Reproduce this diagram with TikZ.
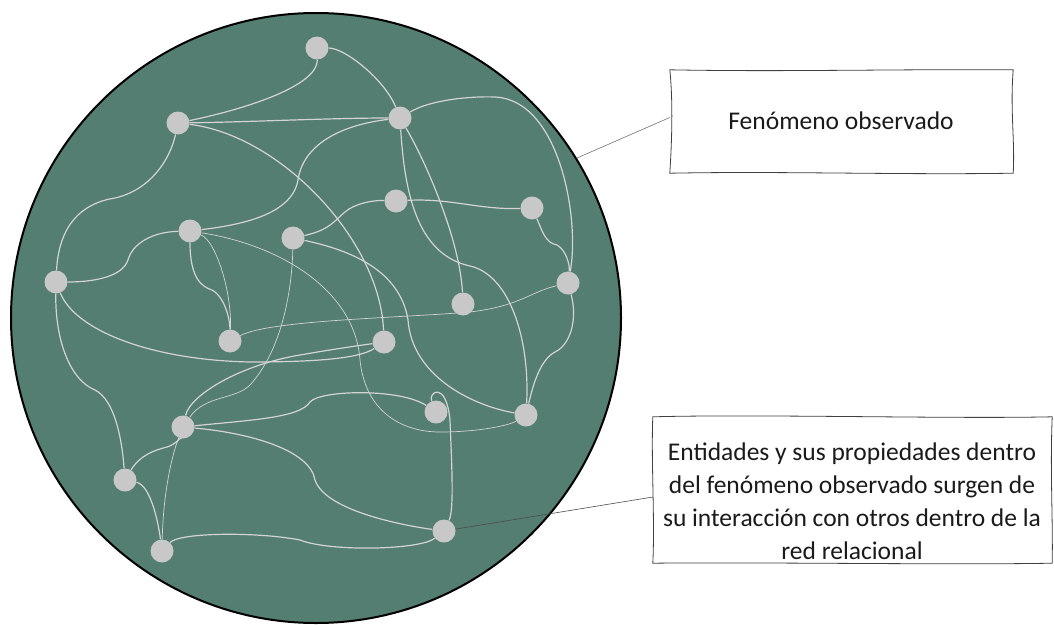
\documentclass[tikz,border=0pt]{standalone}
\usepackage{fontspec}
\setmainfont{Carlito}
\pgfdeclarelayer{back}
\pgfdeclarelayer{edges}
\pgfsetlayers{back,edges,main}
\definecolor{disc}{HTML}{537E71}
\definecolor{dot}{HTML}{C8C8C8}
\definecolor{wire}{HTML}{D4D4D4}
\definecolor{ink}{HTML}{1A1A1A}
\tikzset{
  ent/.style={circle, fill=dot, minimum size=23pt, inner sep=0pt},
  link/.style={draw=wire, line width=1.2pt},
  faint/.style={draw=wire, line width=0.7pt},
  callout/.style={draw=black!55, line width=0.6pt},
  sketch/.style={draw=black!75, line width=0.8pt},
  label/.style={font=\fontsize{25.5}{33}\selectfont, text=ink, align=center, inner sep=0pt}
}
\begin{document}
\begin{tikzpicture}[x=1pt,y=-1pt]
\useasboundingbox (0,0) rectangle (1054,624);
\begin{pgfonlayer}{back}
  \fill[white] (0,0) rectangle (1054,624);
  \draw[fill=disc, draw=black, line width=2pt] (316,318) circle [radius=305];
\end{pgfonlayer}
% entities
\node[ent] (A) at (317,48) {};
\node[ent] (B) at (178,123) {};
\node[ent] (C) at (400,118) {};
\node[ent] (D) at (396,201) {};
\node[ent] (E) at (532,208) {};
\node[ent] (F) at (190,231) {};
\node[ent] (G) at (293,238) {};
\node[ent] (H) at (56,282) {};
\node[ent] (I) at (568,283) {};
\node[ent] (J) at (463,304) {};
\node[ent] (K) at (230,341) {};
\node[ent] (L) at (384,342) {};
\node[ent] (M) at (436,412) {};
\node[ent] (N) at (526,415) {};
\node[ent] (O) at (183,427) {};
\node[ent] (P) at (125,480) {};
\node[ent] (Q) at (444,531) {};
\node[ent] (R) at (162,551) {};
\begin{pgfonlayer}{edges}
\draw[link] (A) .. controls (318,85) and (250,108) .. (B);
\draw[link] (A) .. controls (345,48) and (385,80) .. (C);
\draw[link] (C) .. controls (425,160) and (460,240) .. (J);
\draw[link] (C) .. controls (405,200) and (420,255) .. (470,266) .. controls (510,275) and (530,340) .. (N);
\draw[link] (C) .. controls (430,100) and (470,96) .. (495,97) .. controls (560,100) and (580,220) .. (I);
\draw[link] (B) .. controls (250,122) and (330,118) .. (C);
\draw[link] (B) .. controls (280,135) and (380,240) .. (L);
\draw[link] (B) .. controls (170,160) and (150,190) .. (115,198) .. controls (70,205) and (58,240) .. (H);
\draw[link] (C) .. controls (340,125) and (303,145) .. (298,180) .. controls (292,215) and (240,225) .. (F);
\draw[link] (F) .. controls (150,232) and (132,245) .. (128,260) .. controls (122,278) and (90,282) .. (H);
\draw[link] (F) .. controls (190,280) and (203,287) .. (212,290) .. controls (225,297) and (230,320) .. (K);
\draw[faint] (F) .. controls (215,240) and (232,290) .. (K);
\draw[faint] (K) .. controls (270,320) and (400,318) .. (470,312) .. controls (520,306) and (530,292) .. (I);
\draw[link] (G) .. controls (330,230) and (335,220) .. (345,212) .. controls (355,203) and (375,200) .. (D);
\draw[link] (G) .. controls (350,250) and (400,270) .. (408,320) .. controls (412,375) and (470,405) .. (N);
\draw[faint] (G) .. controls (292,290) and (282,350) .. (250,385) .. controls (235,400) and (205,395) .. (O);
\draw[link] (D) .. controls (450,198) and (480,210) .. (E);
\draw[link] (E) .. controls (542,230) and (545,243) .. (557,245) .. controls (566,250) and (570,265) .. (I);
\draw[link] (H) .. controls (75,330) and (150,360) .. (250,362) .. controls (320,362) and (360,358) .. (L);
\draw[link] (O) .. controls (190,395) and (240,365) .. (300,355) .. controls (340,348) and (370,344) .. (L);
\draw[link] (H) .. controls (55,340) and (70,380) .. (95,390) .. controls (115,400) and (122,440) .. (P);
\draw[link] (P) .. controls (140,455) and (155,450) .. (167,447) .. controls (177,444) and (182,435) .. (O);
\draw[link] (P) .. controls (150,485) and (158,520) .. (R);
\draw[faint] (O) .. controls (170,460) and (163,500) .. (R);
\draw[link] (R) .. controls (180,532) and (260,532) .. (300,540) .. controls (330,552) and (420,550) .. (Q);
\draw[link] (O) .. controls (250,433) and (310,450) .. (315,480) .. controls (325,510) and (400,525) .. (Q);
\draw[link] (O) .. controls (250,420) and (300,418) .. (310,402) .. controls (320,390) and (400,388) .. (M);
\draw[link] (M) .. controls (428,392) and (446,380) .. (450,420) .. controls (452,470) and (454,510) .. (Q);
\draw[link] (I) .. controls (578,320) and (570,345) .. (555,352) .. controls (540,360) and (533,385) .. (N);
\draw[faint] (F) .. controls (280,245) and (355,290) .. (360,360) .. controls (365,410) and (400,432) .. (440,432) .. controls (480,432) and (510,425) .. (N);
\end{pgfonlayer}
% callout boxes
\node[minimum width=343pt, minimum height=103pt, inner sep=0pt] (b1) at (841.5,121.5) {};
\draw[sketch] (b1.north west) .. controls (780,72) and (900,69) .. (b1.north east)
  .. controls (1010,110) and (1015,140) .. (b1.south east)
  .. controls (900,175) and (780,171) .. (b1.south west)
  .. controls (672,140) and (673,100) .. cycle;
\node[label] (t1) at (841,121) {Fenómeno observado};
\coordinate (c1) at (577,158);
\draw[callout] ([yshift=4pt]b1.west) -- (c1);

\node[minimum width=399pt, minimum height=146pt, inner sep=0pt] (b2) at (852.5,490) {};
\draw[sketch] (b2.north west) .. controls (760,414) and (950,419) .. (b2.north east)
  .. controls (1050,470) and (1053,520) .. (b2.south east)
  .. controls (950,565) and (760,562) .. (b2.south west)
  .. controls (655,520) and (651,460) .. cycle;
\node[label] (t2) at (852,501) {Entidades y sus propiedades dentro\\del fenómeno observado surgen de\\su interacción con otros dentro de la\\red relacional};
\draw[callout, draw=black!70] ([yshift=-7pt]b2.west) -- (Q);
\end{tikzpicture}
\end{document}
